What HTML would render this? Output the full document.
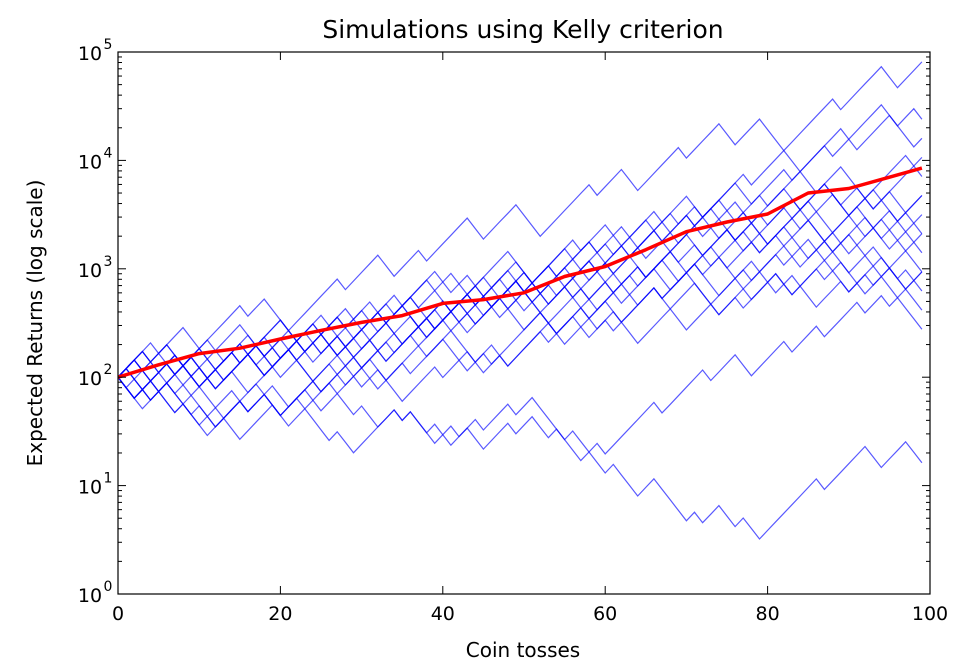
<!DOCTYPE html>
<html><head><meta charset="utf-8"><style>
html,body{margin:0;padding:0;background:#fff;width:963px;height:669px;overflow:hidden}
svg text{font-family:"DejaVu Sans","Liberation Sans",sans-serif;fill:#000}
</style></head><body>
<svg id="chart" width="963" height="669" xmlns="http://www.w3.org/2000/svg">
<text x="523" y="38" font-size="25" text-anchor="middle">Simulations using Kelly criterion</text>
<text x="523" y="657" font-size="20" text-anchor="middle">Coin tosses</text>
<text x="42" y="323" font-size="20" text-anchor="middle" transform="rotate(-90 42 323)">Expected Returns (log scale)</text>
<g id="walks"></g>
<g id="mean"></g>
<g id="axes"></g>
</svg>
<script>
const xTicks = [0, 20, 40, 60, 80, 100];
const yTickExps = [0, 1, 2, 3, 4, 5];
const startValue = 100;
const upFactor = 1.2;
const downFactor = 0.8;
const meanSteps = [0,5,10,15,20,25,30,35,40,45,50,55,60,65,70,75,80,85,90,95,99];
const meanValues = [100,130,165,185,225,270,320,370,480,520,600,850,1050,1500,2200,2700,3200,5000,5500,7000,8500];
const walkA = [4,-1,3,-2,5,-1,2,-3,6,-1,4,-2,3,-1,5,-2,4,-3,6,-1,3,-2,5,-1,4,-2,3,-3,6,-1,5,-2,3];
const walkB = [2,-3,4,-2,3,-1,5,-2,3,-3,4,-1,6,-2,2,-1,4,-3,5,-1,3,-2,4,-1,3,-2,5,-1,4,-2,3,-1,6,-2,2,-1];
const walkC = [-3,2,-2,1,-3,4,-1,3,-2,5,-1,4,-2,3,-1,6,-2,4,-1,3,-2,5,-1,4,-2,3,-1,5,-2,4,-1,6,-2,4,-3,1];
const walkD = [3,-2,2,-3,4,-1,2,-2,5,-3,3,-1,4,-2,3,-1,3,-2,4,-3,5,-1,3,-1,4,-2,5,-2,3,-1,4,-2,3,-4,6];
const walkE = [3,-1,2,-9,4,-1,2,-4,1,-2,5,-1,1,-2,1,-2,3,-1,1,2,-1,2,-4,1,-3,-1,1,-2,-1,2,-4,1,-1,2,-2,1,-2,7,-1,5,-2,1,2,-2];
const walkF = [-2,1,-1,2,-3,1,-2,3,-1,2,-2,3,-1,2,-3,1,-2,2,-1,1,-3,2,-1,1,-2,3,-1,2,-2,1,-3,2,-1,6,-1,5,-1,3,-2,4,-1,3,-1,4,-1,2,-1,4];
const walkG = [2,-1,3,-2,2,-1,4,-3,2,-1,3,-1,2,-2,5,-1,3,-3,2,-1,4,-2,3,-1,2,-2,4,-1,3,-2,5,-1,2,-3,4,-1,3,-2,2,-1,5,-2];
const walkH = [-1,2,-2,3,-1,2,-1,4,-2,3,-3,2,-1,5,-2,2,-1,3,-2,4,-1,2,-3,3,-1,4,-2,2,-1,3,-2,5,-1,2,-2,3,-1,4,-2,3,-3,3];
const walkI = [1,-3,2,-1,3,-2,4,-1,2,-1,3,-2,2,-3,4,-1,3,-1,5,-2,2,-2,3,-1,4,-3,2,-1,3,-2,4,-2,3,-1,2,-3,4,-2,3,-2,4];
const walkJ = [3,-2,1,-1,4,-2,2,-3,3,-1,5,-1,2,-2,3,-3,4,-1,2,-1,3,-2,4,-3,2,-1,3,-1,5,-2,3,-2,2,-1,4,-3,3,-2,2,-3,2];
const walkK = [-2,3,-1,2,-2,4,-1,3,-2,2,-1,5,-2,3,-1,2,-3,4,-1,3,-1,2,-2,6,-1,3,-2,4,-1,2,-3,3,-1,4,-2,1,-3,3,-2,2,-4];
const walkL = [2,-2,3,-3,2,-1,3,-2,4,-1,2,-3,3,-2,5,-1,2,-2,3,-1,4,-2,2,-3,3,-1,4,-2,3,-1,2,-4,3,-2,4,-3,2,-1,4,-2];
const walkM = [1,-3,2,-2,1,-3,3,-1,2,-2,4,-1,3,-2,2,-3,4,-1,3,-2,2,-1,5,-2,3,-1,2,-3,4,-2,3,-1,5,-2,2,-3,3,-1,4,-2,1,-2];
const walkN = [1,-2,3,-1,2,-3,2,-2,3,-1,4,-1,2,-3,3,-1,5,-2,2,-1,3,-3,2,-2,4,-1,3,-2,2,-1,4,-3,3,-1,5,-2,2,-3,3,-2,-4];
const walkO = [-2,2,-3,1,-2,4,-1,2,-4,3,-1,5,-2,3,-1,4,-3,2,-1,6,-2,3,-1,2,-2,4,-1,3,-3,5,-1,2,-1,3,-2,3,-4,-5];
const walkP = [2,-1,2,-4,3,-1,4,-2,2,-3,5,-1,3,-2,2,-1,4,-2,3,-1,2,-3,4,-1,5,-2,3,-1,2,-2,4,-2,3,-1,2,-3,4,-2,3,-1,-1];
const walkQ = [-2,4,-1,2,-3,4,-2,3,-4,2,-1,3,-2,4,-1,3,-3,2,-2,4,-1,3,-2,2,-1,5,-2,3,-3,2,-1,4,-2,3,-1,2,-3,3,-2,2];
const walkR = [-2,5,-1,2,-2,3,-1,4,-3,2,-1,5,-2,3,-1,4,-2,2,-1,3,-2,4,-1,2,-3,3,-1,5,-2,2,-2,3,-1,2,-1,4,-3,2,-1,2,-2,3,-1,2];
const walks = [walkA,walkB,walkC,walkD,walkE,walkF,walkG,walkH,walkI,walkJ,walkK,walkL,walkM,walkN,walkO,walkP,walkQ,walkR];

const X0=118, X1=930, Y0=594, DEC=108.4, MAXSTEP=99;
const NS="http://www.w3.org/2000/svg";
function xs(i){return X0+(X1-X0)*i/100;}
function ys(v){return Y0-Math.log10(v)*DEC;}
function mk(tag,attrs,parent){const e=document.createElementNS(NS,tag);for(const k in attrs)e.setAttribute(k,attrs[k]);parent.appendChild(e);return e;}

const gW=document.getElementById('walks');
walks.forEach(function(runs,wi){
  let v=startValue, step=0, pts=[[xs(0),ys(v)]];
  for(const r of runs){
    const n=Math.abs(r);
    for(let k=0;k<n && step<MAXSTEP;k++){v*= r>0?upFactor:downFactor;step++;pts.push([xs(step),ys(v)]);}
  }
  const p=mk('polyline',{points:pts.map(q=>q[0].toFixed(1)+','+q[1].toFixed(1)).join(' '),fill:'none',stroke:'#0000ff','stroke-opacity':'0.65','stroke-width':'1.2'},gW);
  
  
});

const gM=document.getElementById('mean');
const mp=mk('polyline',{points:meanSteps.map((s,i)=>xs(s).toFixed(1)+','+ys(meanValues[i]).toFixed(1)).join(' '),fill:'none',stroke:'#ff0000','stroke-width':'3.5','stroke-linejoin':'round'},gM);



const gA=document.getElementById('axes');
const YT=ys(1e5);
const frame=mk('rect',{x:X0,y:YT,width:X1-X0,height:Y0-YT,fill:'none',stroke:'#000','stroke-width':'1.2'},gA);


xTicks.forEach(function(t){
  const x=xs(t);
  mk('line',{x1:x,y1:Y0,x2:x,y2:Y0-8,stroke:'#000'},gA);
  mk('line',{x1:x,y1:YT,x2:x,y2:YT+8,stroke:'#000'},gA);
  const tx=mk('text',{x:x,y:Y0+26,'font-size':'19','text-anchor':'middle'},gA);
  tx.textContent=t;
  
  
});
yTickExps.forEach(function(e){
  const y=ys(Math.pow(10,e));
  mk('line',{x1:X0,y1:y,x2:X0+8,y2:y,stroke:'#000'},gA);
  mk('line',{x1:X1,y1:y,x2:X1-8,y2:y,stroke:'#000'},gA);
  if(e<5){for(let m=2;m<10;m++){const ym=ys(m*Math.pow(10,e));
    mk('line',{x1:X0,y1:ym,x2:X0+4,y2:ym,stroke:'#000'},gA);
    mk('line',{x1:X1,y1:ym,x2:X1-4,y2:ym,stroke:'#000'},gA);}}
  const tx=mk('text',{x:X0-28,y:y+8,'font-size':'19','text-anchor':'middle'},gA);
  tx.textContent='10';
  
  
  const sp=mk('text',{x:X0-10,y:y-3,'font-size':'14','text-anchor':'middle'},gA);
  sp.textContent=e;
  
  
});
</script>
</body></html>
